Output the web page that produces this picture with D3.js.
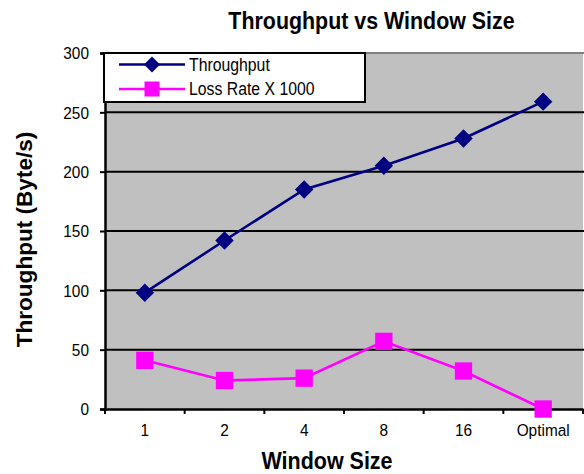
<!DOCTYPE html>
<html><head><meta charset="utf-8">
<script src="https://cdn.jsdelivr.net/npm/d3@7"></script>
<style>body{margin:0;background:#fff}svg{display:block;font-family:"Liberation Sans",Arial,sans-serif}</style>
</head><body><svg id="c" width="584" height="474"></svg>
<script>
const categories = ["1","2","4","8","16","Optimal"];
const throughput = [98, 142, 185, 205, 228, 259];
const lossRate = [41, 24, 26, 57, 32, 0];
const yTicks = [0, 50, 100, 150, 200, 250, 300];
const seriesNames = ["Throughput", "Loss Rate X 1000"];

const FONT = "Liberation Sans, Arial, sans-serif";
const VS = 1.12; // vertical stretch of text in reference
const svg = d3.select("#c");
const L = 105, R = 583, T = 53, B = 409;
const x = d3.scaleBand().domain(categories).range([L, R]);
const y = d3.scaleLinear().domain([0, 300]).range([B, T]);

svg.append("rect").attr("x", L).attr("y", T).attr("width", R - L).attr("height", B - T).attr("fill", "#c0c0c0");
svg.append("line").attr("x1", L).attr("x2", R + 1).attr("y1", T).attr("y2", T).attr("stroke", "#808080").attr("stroke-width", 2);

// gridlines
svg.append("g").selectAll("line").data(yTicks.filter(d => d > 0 && d < 300)).join("line")
  .attr("x1", L).attr("x2", R + 1).attr("y1", d => y(d)).attr("y2", d => y(d))
  .attr("stroke", "#000").attr("stroke-width", 2);

// y axis
const ya = svg.append("g").attr("transform", `translate(${L},0)`)
  .call(d3.axisLeft(y).tickValues(yTicks).tickSize(5).tickPadding(11));
ya.select(".domain").attr("stroke-width", 2.5);
ya.selectAll(".tick line").attr("stroke-width", 2);
ya.selectAll("text").attr("font-size", 15.4).attr("font-family", FONT).attr("fill", "#000")
  .attr("dy", "0.33em").attr("transform", `scale(1,${VS})`);

// x axis
const xa = svg.append("g").attr("transform", `translate(0,${B})`)
  .call(d3.axisBottom(x).tickSize(0));
xa.select(".domain").attr("stroke-width", 2.5);
xa.selectAll("text").attr("font-size", 15.4).attr("font-family", FONT).attr("fill", "#000")
  .attr("dy", 0).attr("y", 27.5 / VS).attr("transform", `scale(1,${VS})`);
const bounds = categories.map(c => x(c)).concat([R]);
xa.append("g").selectAll("line").data(bounds).join("line")
  .attr("x1", d => d).attr("x2", d => d).attr("y1", 0).attr("y2", 5)
  .attr("stroke", "#000").attr("stroke-width", 2);

const cx = c => x(c) + x.bandwidth() / 2;
const line = d3.line().x((d, i) => cx(categories[i])).y(d => y(d));

svg.append("path").datum(throughput).attr("d", line).attr("fill", "none").attr("stroke", "#000080").attr("stroke-width", 2.6);
svg.append("path").datum(lossRate).attr("d", line).attr("fill", "none").attr("stroke", "#ff00ff").attr("stroke-width", 2.6);

const diamond = d3.symbol().type(d3.symbolSquare).size(170);
svg.append("g").selectAll("path").data(throughput).join("path")
  .attr("d", diamond)
  .attr("transform", (d, i) => `translate(${cx(categories[i])},${y(d)}) rotate(45)`)
  .attr("fill", "#000080");
const sq = d3.symbol().type(d3.symbolSquare).size(300);
svg.append("g").selectAll("path").data(lossRate).join("path")
  .attr("d", sq)
  .attr("transform", (d, i) => `translate(${cx(categories[i])},${y(d)})`)
  .attr("fill", "#ff00ff");

// legend
const lg = svg.append("g");
lg.append("rect").attr("x", 104).attr("y", 53).attr("width", 261).attr("height", 49).attr("fill", "#fff").attr("stroke", "#000").attr("stroke-width", 2);
const ly = [64.5, 89];
const lc = ["#000080", "#ff00ff"];
const lDiamond = d3.symbol().type(d3.symbolSquare).size(128);
const lSq = d3.symbol().type(d3.symbolSquare).size(225);
seriesNames.forEach((n, i) => {
  lg.append("line").attr("x1", 119).attr("x2", 185).attr("y1", ly[i]).attr("y2", ly[i]).attr("stroke", lc[i]).attr("stroke-width", 2.6);
  lg.append("path").attr("d", i === 0 ? lDiamond() : lSq())
    .attr("transform", `translate(152,${ly[i]})` + (i === 0 ? " rotate(45)" : "")).attr("fill", lc[i]);
  lg.append("text").attr("transform", `translate(189,${ly[i] + 6}) scale(1,${VS})`)
    .attr("font-size", 15.8).attr("font-family", FONT).text(n);
});

svg.append("text").attr("transform", `translate(371.5,29) scale(1,${VS})`).attr("text-anchor", "middle")
  .attr("font-size", 21.4).attr("font-weight", "bold").attr("font-family", FONT).text("Throughput vs Window Size");
svg.append("text").attr("transform", `translate(327,469) scale(1,${VS})`).attr("text-anchor", "middle")
  .attr("font-size", 21.5).attr("font-weight", "bold").attr("font-family", FONT).text("Window Size");
svg.append("text").attr("transform", "translate(32,239.5) rotate(-90) scale(1.05,1)").attr("text-anchor", "middle")
  .attr("font-size", 21.5).attr("font-weight", "bold").attr("font-family", FONT).text("Throughput (Byte/s)");
</script></body></html>
